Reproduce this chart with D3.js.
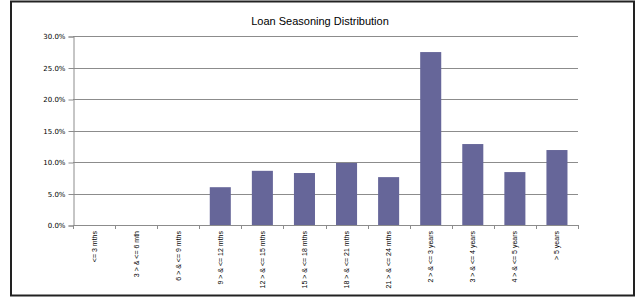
<!DOCTYPE html>
<html><head><meta charset="utf-8">
<script src="https://cdn.jsdelivr.net/npm/d3@7"></script>
<style>body{margin:0;background:#fff}svg{display:block}</style>
</head><body>
<script>
const categories = ["<= 3 mths","3 > & <= 6 mth","6 > & <= 9 mths","9 > & <= 12 mths","12 > & <= 15 mths","15 > & <= 18 mths","18 > & <= 21 mths","21 > & <= 24 mths","2 > & <= 3 years","3 > & <= 4 years","4 > & <= 5 years","> 5 years"];
const values = [0, 0, 0, 6.0, 8.6, 8.25, 9.85, 7.6, 27.45, 12.85, 8.4, 11.9];
const yTicks = [0, 5, 10, 15, 20, 25, 30];
const title = "Loan Seasoning Distribution";

(function () {
const W = 641, H = 300;
const svg = d3.select("body").append("svg").attr("width", W).attr("height", H);
svg.append("rect").attr("x", 11).attr("y", 1.5).attr("width", 623).attr("height", 294)
  .attr("fill", "#fff").attr("stroke", "#222").attr("stroke-width", 2);

const pL = 73, pR = 578, pT = 36, pB = 225;
const x = d3.scaleBand().domain(categories).range([pL, pR]).paddingInner(0.5).paddingOuter(0.25);
const y = d3.scaleLinear().domain([0, 30]).range([pB, pT]);

svg.append("text").attr("x", 320).attr("y", 25).attr("text-anchor", "middle")
  .attr("font-family", "Liberation Sans, Arial, sans-serif").attr("font-size", 11).attr("fill", "#000").text(title);

// gridlines
svg.append("g").selectAll("line").data(yTicks.filter(d => d > 0)).join("line")
  .attr("x1", pL).attr("x2", pR).attr("y1", d => Math.round(y(d)) + 0.5).attr("y2", d => Math.round(y(d)) + 0.5)
  .attr("stroke", "#8c8c8c").attr("stroke-width", 1);

// bars
svg.append("g").selectAll("rect").data(categories).join("rect")
  .attr("x", (d) => x(d)).attr("width", x.bandwidth())
  .attr("y", (d, i) => y(values[i])).attr("height", (d, i) => pB - y(values[i]))
  .attr("fill", "#666699");

// y axis
const yAxis = d3.axisLeft(y).tickValues(yTicks).tickFormat(d => d.toFixed(1) + "%").tickSize(5).tickPadding(3);
const gy = svg.append("g").attr("transform", `translate(${pL + 0.5},0.5)`).call(yAxis);
gy.select(".domain").attr("stroke", "#8c8c8c");
gy.selectAll(".tick line").attr("stroke", "#8c8c8c");
gy.selectAll("text").attr("font-family", "DejaVu Sans, Verdana, sans-serif").attr("font-size", 7).attr("fill", "#000");

// x axis: line with ticks at category boundaries
const step = (pR - pL) / categories.length;
const gx = svg.append("g");
gx.append("line").attr("x1", pL).attr("x2", pR).attr("y1", pB + 0.5).attr("y2", pB + 0.5).attr("stroke", "#8c8c8c");
gx.selectAll("line.tk").data(d3.range(categories.length + 1)).join("line").attr("class", "tk")
  .attr("x1", i => Math.round(pL + i * step) + 0.5).attr("x2", i => Math.round(pL + i * step) + 0.5)
  .attr("y1", pB).attr("y2", pB + 4).attr("stroke", "#8c8c8c");
gx.selectAll("text").data(categories).join("text")
  .attr("transform", d => `translate(${x(d) + x.bandwidth() / 2 + 2.5},231) rotate(-90)`)
  .attr("text-anchor", "end")
  .attr("font-family", "Liberation Sans, Arial, sans-serif").attr("font-size", 7).attr("fill", "#000")
  .text(d => d);
})();
</script>
</body></html>
